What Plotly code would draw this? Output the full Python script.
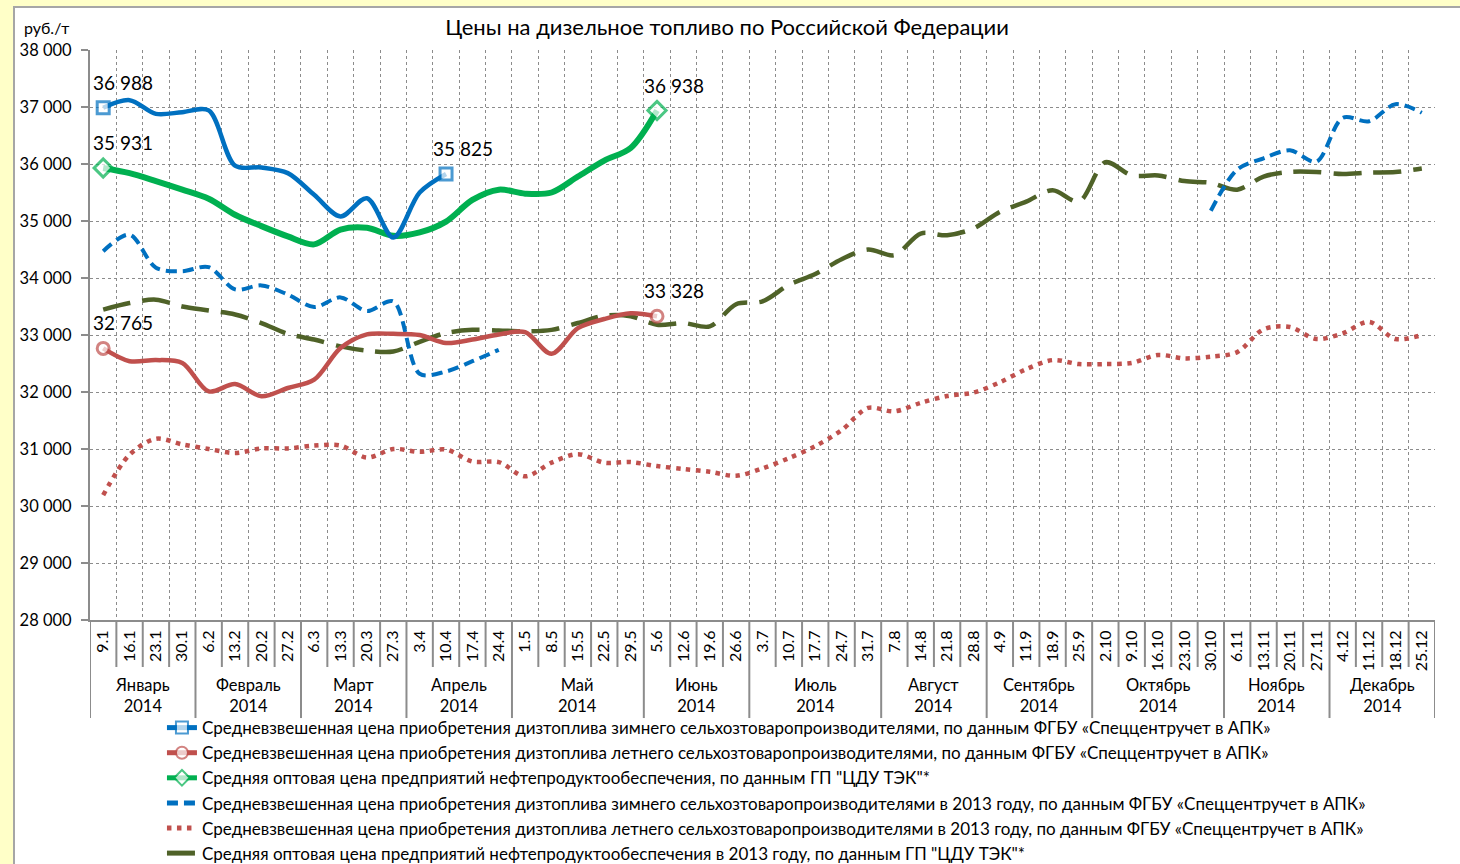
import plotly.graph_objects as go

# Week labels (day.month) and month groups for 2014
weeks = ["9.1", "16.1", "23.1", "30.1", "6.2", "13.2", "20.2", "27.2", "6.3", "13.3", "20.3", "27.3",
         "3.4", "10.4", "17.4", "24.4", "1.5", "8.5", "15.5", "22.5", "29.5", "5.6", "12.6", "19.6", "26.6",
         "3.7", "10.7", "17.7", "24.7", "31.7", "7.8", "14.8", "21.8", "28.8", "4.9", "11.9", "18.9", "25.9",
         "2.10", "9.10", "16.10", "23.10", "30.10", "6.11", "13.11", "20.11", "27.11",
         "4.12", "11.12", "18.12", "25.12"]
months = ["Январь", "Февраль", "Март", "Апрель", "Май", "Июнь", "Июль", "Август",
          "Сентябрь", "Октябрь", "Ноябрь", "Декабрь"]
weeks_per_month = [4, 4, 4, 4, 5, 4, 5, 4, 4, 5, 4, 4]
year = "2014"

# Prices, rub/t
winter_2014 = [36988, 37120, 36880, 36910, 36940, 35970, 35940, 35840, 35460, 35080, 35400, 34710,
               35500, 35825]
summer_2014 = [32765, 32540, 32560, 32510, 32010, 32140, 31925, 32070, 32215, 32770, 33010, 33020,
               33000, 32860, 32920, 33010, 33050, 32670, 33120, 33280, 33380, 33328]
wholesale_2014 = [35931, 35840, 35700, 35550, 35390, 35110, 34910, 34730, 34590, 34850, 34880, 34740,
                  34800, 34990, 35370, 35550, 35480, 35500, 35780, 36060, 36280, 36938]
winter_2013 = ([34470, 34760, 34180, 34120, 34190, 33800, 33870, 33710, 33490, 33660, 33420, 33590,
                32320, 32360, 32540, 32740] + [None] * 26 +
               [35180, 35900, 36100, 36240, 36040, 36810, 36750, 37050, 36900])
summer_2013 = [30190, 30900, 31180, 31080, 31000, 30930, 31010, 31010, 31060, 31060, 30850, 31000,
               30950, 30990, 30780, 30770, 30520, 30760, 30910, 30760, 30770, 30700, 30650, 30600,
               30530, 30660, 30840, 31050, 31330, 31720, 31660, 31810, 31930, 31990, 32170, 32400,
               32560, 32490, 32490, 32510, 32650, 32590, 32620, 32700, 33100, 33140, 32930, 33030,
               33230, 32930, 33000]
wholesale_2013 = [33445, 33560, 33620, 33500, 33430, 33360, 33210, 33020, 32920, 32800, 32725, 32710,
                  32880, 33035, 33090, 33080, 33065, 33090, 33210, 33340, 33330, 33180, 33210, 33150,
                  33540, 33590, 33880, 34070, 34330, 34500, 34400, 34780, 34750, 34870, 35160, 35340,
                  35540, 35340, 36030, 35800, 35800, 35700, 35670, 35550, 35780, 35860, 35860, 35825,
                  35850, 35860, 35920]

names = [
    "Средневзвешенная цена приобретения дизтоплива зимнего сельхозтоваропроизводителями, по данным ФГБУ «Спеццентручет в АПК»",
    "Средневзвешенная цена приобретения дизтоплива летнего сельхозтоваропроизводителями, по данным ФГБУ «Спеццентручет в АПК»",
    "Средняя оптовая цена предприятий нефтепродуктообеспечения, по данным ГП \"ЦДУ ТЭК\"*",
    "Средневзвешенная цена приобретения дизтоплива зимнего сельхозтоваропроизводителями в 2013 году, по данным ФГБУ «Спеццентручет в АПК»",
    "Средневзвешенная цена приобретения дизтоплива летнего сельхозтоваропроизводителями в 2013 году, по данным ФГБУ «Спеццентручет в АПК»",
    "Средняя оптовая цена предприятий нефтепродуктообеспечения в 2013 году, по данным ГП \"ЦДУ ТЭК\"*",
]

BLUE = "#0070C0"
RED = "#C0504D"
GREEN = "#00B050"
OLIVE = "#4F6228"
AXIS = "#8C8C8C"
FONT = "Lato"

fig = go.Figure()

# 2013 comparison series (drawn underneath)
fig.add_trace(go.Scatter(x=weeks, y=wholesale_2013, name=names[5], legendrank=6, mode="lines",
                         line=dict(color=OLIVE, width=4.5, dash="28px,12px", shape="spline", smoothing=0.9)))
fig.add_trace(go.Scatter(x=weeks, y=summer_2013, name=names[4], legendrank=5, mode="lines",
                         line=dict(color=RED, width=4.5, dash="4.5px,5.5px", shape="spline", smoothing=0.9)))
fig.add_trace(go.Scatter(x=weeks, y=winter_2013, name=names[3], legendrank=4, mode="lines",
                         connectgaps=False,
                         line=dict(color=BLUE, width=4, dash="11px,6px", shape="spline", smoothing=0.9)))


def end_sizes(n, size=12):
    return [size if i in (0, n - 1) else 0 for i in range(n)]


# 2014 series with hollow markers on the first and last weeks
for vals, nm, rank, col, sym, width in [
    (wholesale_2014, names[2], 3, GREEN, "diamond", 6),
    (summer_2014, names[1], 2, RED, "circle", 4.5),
    (winter_2014, names[0], 1, BLUE, "square", 4.5),
]:
    n = len(vals)
    fig.add_trace(go.Scatter(
        x=weeks[:n], y=vals, name=nm, legendrank=rank, mode="lines+markers",
        line=dict(color=col, width=width, shape="spline", smoothing=0.9),
        marker=dict(symbol=sym, size=end_sizes(n, 12 if sym != "diamond" else 14),
                    color="#FFFFFF", line=dict(color=col, width=3)),
    ))
    # value labels; x given as the category's serial number
    for i in (0, n - 1):
        fig.add_annotation(x=i, y=vals[i], xref="x", yref="y", text=f"{vals[i]:,}".replace(",", " "),
                           showarrow=False, xanchor="center", yanchor="bottom",
                           xshift=20 if i == 0 else 17, yshift=12,
                           font=dict(family=FONT, size=19, color="#000000"))

# Month / year group labels under the week labels
shapes = []
start = 0
bounds = [-0.5]
for m, cnt in zip(months, weeks_per_month):
    center = start + (cnt - 1) / 2
    fig.add_annotation(x=center, y=-0.1316, xref="x", yref="paper", text=f"{m}<br>{year}",
                       showarrow=False, xanchor="center", yanchor="middle",
                       font=dict(family=FONT, size=16.5, color="#000000"))
    start += cnt
    bounds.append(start - 0.5)

# Separators below the axis: short ones between weeks, long ones between months
for k in range(len(weeks) + 1):
    b = k - 0.5
    long = b in bounds
    shapes.append(dict(type="line", xref="x", yref="paper", x0=b, x1=b, y0=0,
                       y1=-0.172 if long else -0.0825,
                       line=dict(color=AXIS, width=2)))

# Chart area frame on the yellow page
shapes.append(dict(type="rect", xref="paper", yref="paper", x0=-0.0565, x1=1.2, y0=-0.6, y1=1.0754,
                   fillcolor="#FFFFFF", line=dict(color="#A6A6A6", width=2), layer="below"))

fig.update_layout(
    width=1460, height=864, autosize=False,
    margin=dict(l=90, r=25, t=50, b=244, autoexpand=False),
    paper_bgcolor="#FFFFC8", plot_bgcolor="#FFFFFF",
    separators=", ",
    font=dict(family=FONT, size=16, color="#000000"),
    title=dict(text="Цены на дизельное топливо по Российской Федерации", x=0.498, xref="container",
               xanchor="center", y=1 - 27 / 864, yanchor="middle",
               font=dict(family=FONT, size=22, color="#000000")),
    shapes=shapes,
    showlegend=True,
    legend=dict(x=0.0535, y=-0.158, xanchor="left", yanchor="top", orientation="v",
                font=dict(family=FONT, size=17, color="#000000"), bgcolor="rgba(0,0,0,0)",
                itemsizing="constant", tracegroupgap=0),
)

fig.add_annotation(x=(22 - 90) / 1345, y=(620 - 27) / 570, xref="paper", yref="paper", text="руб./т",
                   showarrow=False, xanchor="left", yanchor="middle", font=dict(family=FONT, size=16))

fig.update_xaxes(type="category", range=[-0.5, len(weeks) - 0.5], tickmode="linear", tick0=0, dtick=1,
                 tickson="boundaries", ticks="", tickangle=-90, ticklabelstandoff=2,
                 tickfont=dict(family=FONT, size=16),
                 showgrid=True, gridcolor="#8C8C8C", griddash="dot", gridwidth=1,
                 showline=True, linecolor=AXIS, linewidth=2, zeroline=False, fixedrange=True)
fig.update_yaxes(range=[28000, 38000], dtick=1000, tick0=28000, tickformat=",d",
                 ticks="outside", ticklen=7, tickwidth=2, tickcolor=AXIS, ticklabelstandoff=6,
                 tickfont=dict(family=FONT, size=16.5),
                 showgrid=True, gridcolor="#8C8C8C", griddash="dot", gridwidth=1,
                 showline=True, linecolor=AXIS, linewidth=2, zeroline=False, fixedrange=True)

fig.write_html("out.html")
